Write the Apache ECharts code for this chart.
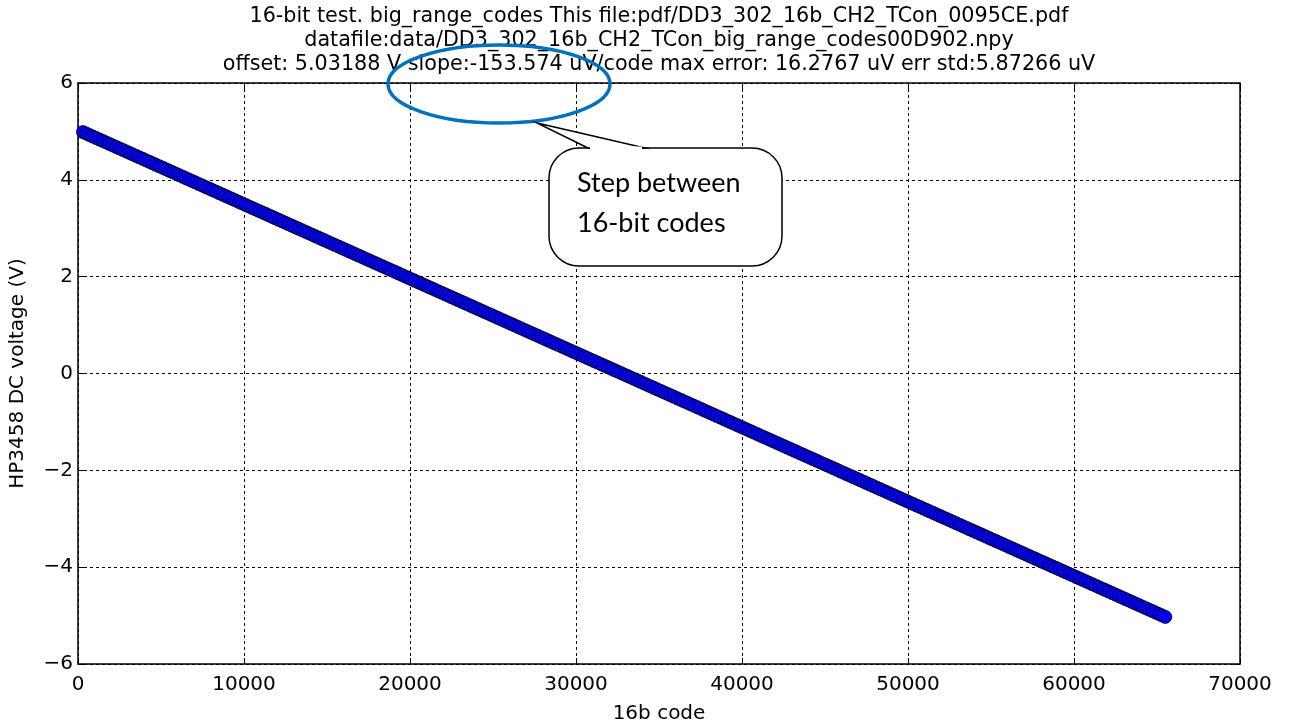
<!DOCTYPE html>
<html>
<head>
<meta charset="utf-8">
<script src="https://cdn.jsdelivr.net/npm/echarts@6/dist/echarts.min.js"></script>
<style>html,body{margin:0;padding:0;background:#fff}#c{width:1291px;height:726px}</style>
</head>
<body>
<div id="c"></div>
<script>
var titleLines = [
  '16-bit test. big_range_codes This file:pdf/DD3_302_16b_CH2_TCon_0095CE.pdf',
  'datafile:data/DD3_302_16b_CH2_TCon_big_range_codes00D902.npy',
  'offset: 5.03188 V slope:-153.574 uV/code max error: 16.2767 uV err std:5.87266 uV'
];
var xAxisName = '16b code';
var yAxisName = 'HP3458 DC voltage (V)';
var calloutLines = ['Step between', '16-bit codes'];
var xTicks = [0, 10000, 20000, 30000, 40000, 50000, 60000, 70000];
var yTicks = [-6, -4, -2, 0, 2, 4, 6];

var codes = [
300,500,700,900,1100,1300,1500,1700,1900,2100,
2300,2500,2700,2900,3100,3300,3500,3700,3900,4100,
4300,4500,4700,4900,5100,5300,5500,5700,5900,6100,
6300,6500,6700,6900,7100,7300,7500,7700,7900,8100,
8300,8500,8700,8900,9100,9300,9500,9700,9900,10100,
10300,10500,10700,10900,11100,11300,11500,11700,11900,12100,
12300,12500,12700,12900,13100,13300,13500,13700,13900,14100,
14300,14500,14700,14900,15100,15300,15500,15700,15900,16100,
16300,16500,16700,16900,17100,17300,17500,17700,17900,18100,
18300,18500,18700,18900,19100,19300,19500,19700,19900,20100,
20300,20500,20700,20900,21100,21300,21500,21700,21900,22100,
22300,22500,22700,22900,23100,23300,23500,23700,23900,24100,
24300,24500,24700,24900,25100,25300,25500,25700,25900,26100,
26300,26500,26700,26900,27100,27300,27500,27700,27900,28100,
28300,28500,28700,28900,29100,29300,29500,29700,29900,30100,
30300,30500,30700,30900,31100,31300,31500,31700,31900,32100,
32300,32500,32700,32900,33100,33300,33500,33700,33900,34100,
34300,34500,34700,34900,35100,35300,35500,35700,35900,36100,
36300,36500,36700,36900,37100,37300,37500,37700,37900,38100,
38300,38500,38700,38900,39100,39300,39500,39700,39900,40100,
40300,40500,40700,40900,41100,41300,41500,41700,41900,42100,
42300,42500,42700,42900,43100,43300,43500,43700,43900,44100,
44300,44500,44700,44900,45100,45300,45500,45700,45900,46100,
46300,46500,46700,46900,47100,47300,47500,47700,47900,48100,
48300,48500,48700,48900,49100,49300,49500,49700,49900,50100,
50300,50500,50700,50900,51100,51300,51500,51700,51900,52100,
52300,52500,52700,52900,53100,53300,53500,53700,53900,54100,
54300,54500,54700,54900,55100,55300,55500,55700,55900,56100,
56300,56500,56700,56900,57100,57300,57500,57700,57900,58100,
58300,58500,58700,58900,59100,59300,59500,59700,59900,60100,
60300,60500,60700,60900,61100,61300,61500,61700,61900,62100,
62300,62500,62700,62900,63100,63300,63500,63700,63900,64100,
64300,64500,64700,64900,65100,65300,65500];
var volts = [
4.986,4.955,4.924,4.894,4.863,4.832,4.802,4.771,4.740,4.709,
4.679,4.648,4.617,4.587,4.556,4.525,4.494,4.464,4.433,4.402,
4.372,4.341,4.310,4.279,4.249,4.218,4.187,4.157,4.126,4.095,
4.064,4.034,4.003,3.972,3.942,3.911,3.880,3.849,3.819,3.788,
3.757,3.727,3.696,3.665,3.634,3.604,3.573,3.542,3.512,3.481,
3.450,3.419,3.389,3.358,3.327,3.297,3.266,3.235,3.204,3.174,
3.143,3.112,3.081,3.051,3.020,2.989,2.959,2.928,2.897,2.866,
2.836,2.805,2.774,2.744,2.713,2.682,2.651,2.621,2.590,2.559,
2.529,2.498,2.467,2.436,2.406,2.375,2.344,2.314,2.283,2.252,
2.221,2.191,2.160,2.129,2.099,2.068,2.037,2.006,1.976,1.945,
1.914,1.884,1.853,1.822,1.791,1.761,1.730,1.699,1.669,1.638,
1.607,1.576,1.546,1.515,1.484,1.454,1.423,1.392,1.361,1.331,
1.300,1.269,1.239,1.208,1.177,1.146,1.116,1.085,1.054,1.024,
0.993,0.962,0.931,0.901,0.870,0.839,0.809,0.778,0.747,0.716,
0.686,0.655,0.624,0.594,0.563,0.532,0.501,0.471,0.440,0.409,
0.379,0.348,0.317,0.286,0.256,0.225,0.194,0.164,0.133,0.102,
0.071,0.041,0.010,-0.021,-0.051,-0.082,-0.113,-0.144,-0.174,-0.205,
-0.236,-0.266,-0.297,-0.328,-0.359,-0.389,-0.420,-0.451,-0.481,-0.512,
-0.543,-0.574,-0.604,-0.635,-0.666,-0.696,-0.727,-0.758,-0.789,-0.819,
-0.850,-0.881,-0.911,-0.942,-0.973,-1.004,-1.034,-1.065,-1.096,-1.126,
-1.157,-1.188,-1.219,-1.249,-1.280,-1.311,-1.341,-1.372,-1.403,-1.434,
-1.464,-1.495,-1.526,-1.556,-1.587,-1.618,-1.649,-1.679,-1.710,-1.741,
-1.771,-1.802,-1.833,-1.864,-1.894,-1.925,-1.956,-1.986,-2.017,-2.048,
-2.079,-2.109,-2.140,-2.171,-2.201,-2.232,-2.263,-2.294,-2.324,-2.355,
-2.386,-2.416,-2.447,-2.478,-2.509,-2.539,-2.570,-2.601,-2.631,-2.662,
-2.693,-2.724,-2.754,-2.785,-2.816,-2.846,-2.877,-2.908,-2.939,-2.969,
-3.000,-3.031,-3.061,-3.092,-3.123,-3.154,-3.184,-3.215,-3.246,-3.276,
-3.307,-3.338,-3.369,-3.399,-3.430,-3.461,-3.491,-3.522,-3.553,-3.584,
-3.614,-3.645,-3.676,-3.706,-3.737,-3.768,-3.799,-3.829,-3.860,-3.891,
-3.921,-3.952,-3.983,-4.014,-4.044,-4.075,-4.106,-4.136,-4.167,-4.198,
-4.229,-4.259,-4.290,-4.321,-4.351,-4.382,-4.413,-4.444,-4.474,-4.505,
-4.536,-4.566,-4.597,-4.628,-4.659,-4.689,-4.720,-4.751,-4.781,-4.812,
-4.843,-4.874,-4.904,-4.935,-4.966,-4.996,-5.027];

var pts = codes.map(function (c, i) { return [c, volts[i]]; });
var FONT = 'DejaVu Sans';
function fmt(v) { return String(v).replace('-', '\u2212'); }

var chart = echarts.init(document.getElementById('c'));
var gridLeft = 78, gridRight = 51, gridTop = 83, gridBottom = 62;
var splitStyle = { show: true, lineStyle: { color: '#000', type: [3, 3], width: 1 } };
function mkX(pos, main) {
  return {
    type: 'value', position: pos, min: 0, max: 70000, interval: 10000,
    name: main ? xAxisName : '', nameLocation: 'middle', nameGap: 40,
    nameTextStyle: { fontFamily: FONT, fontSize: 20, color: '#000' },
    axisLine: { show: true, onZero: false, lineStyle: { color: '#000', width: 1.5 } },
    axisTick: { show: true, inside: true, length: 6, lineStyle: { color: '#000', width: 1 } },
    axisLabel: { show: main, fontFamily: FONT, fontSize: 20, color: '#000', margin: 11,
      formatter: function (v) { return xTicks.indexOf(v) >= 0 ? fmt(v) : ''; } },
    splitLine: main ? splitStyle : { show: false }
  };
}
function mkY(pos, main) {
  return {
    type: 'value', position: pos, min: -6, max: 6, interval: 2,
    name: main ? yAxisName : '', nameLocation: 'middle', nameGap: 50,
    nameTextStyle: { fontFamily: FONT, fontSize: 20, color: '#000' },
    axisLine: { show: true, onZero: false, lineStyle: { color: '#000', width: 1.5 } },
    axisTick: { show: true, inside: true, length: 6, lineStyle: { color: '#000', width: 1 } },
    axisLabel: { show: main, fontFamily: FONT, fontSize: 20, color: '#000', margin: 5,
      formatter: function (v) { return yTicks.indexOf(v) >= 0 ? fmt(v) : ''; } },
    splitLine: main ? splitStyle : { show: false }
  };
}

var cx = 659;
var graphics = titleLines.map(function (t, i) {
  return { type: 'text', x: cx, y: 17 + 24 * i, z: 10,
    style: { text: t, fill: '#000', font: '20.7px "DejaVu Sans"', textAlign: 'center', textVerticalAlign: 'middle' } };
});
graphics.push({
  type: 'ellipse', z: 20,
  shape: { cx: 499, cy: 84, rx: 111, ry: 39 },
  style: { fill: 'none', stroke: '#0070C0', lineWidth: 3.5 }
});
graphics.push({
  type: 'rect', z: 20,
  shape: { x: 549, y: 148, width: 233, height: 118, r: 30 },
  style: { fill: '#fff', stroke: '#000', lineWidth: 1.5 }
});
graphics.push({
  type: 'polygon', z: 21,
  shape: { points: [[588, 148], [537, 123], [645, 148]] },
  style: { fill: '#fff', stroke: '#000', lineWidth: 1.5 }
});
graphics.push({
  type: 'line', z: 22,
  shape: { x1: 590, y1: 148, x2: 642, y2: 148 },
  style: { stroke: '#fff', lineWidth: 3 }
});
calloutLines.forEach(function (t, i) {
  graphics.push({ type: 'text', z: 23, x: 577, y: 183 + 40 * i,
    style: { text: t, fill: '#000', font: '27px Lato', textAlign: 'left', textVerticalAlign: 'middle' } });
});

chart.setOption({
  animation: false,
  backgroundColor: '#fff',
  grid: { left: gridLeft, right: gridRight, top: gridTop, bottom: gridBottom, containLabel: false, outerBoundsMode: 'none' },
  xAxis: [mkX('bottom', true), mkX('top', false)],
  yAxis: [mkY('left', true), mkY('right', false)],
  series: [{
    type: 'scatter', xAxisIndex: 0, yAxisIndex: 0,
    data: pts, symbol: 'circle', symbolSize: 13,
    itemStyle: { color: '#0000ff', borderColor: '#000', borderWidth: 0.8, opacity: 1 }
  }],
  graphic: graphics
});
</script>
</body>
</html>
